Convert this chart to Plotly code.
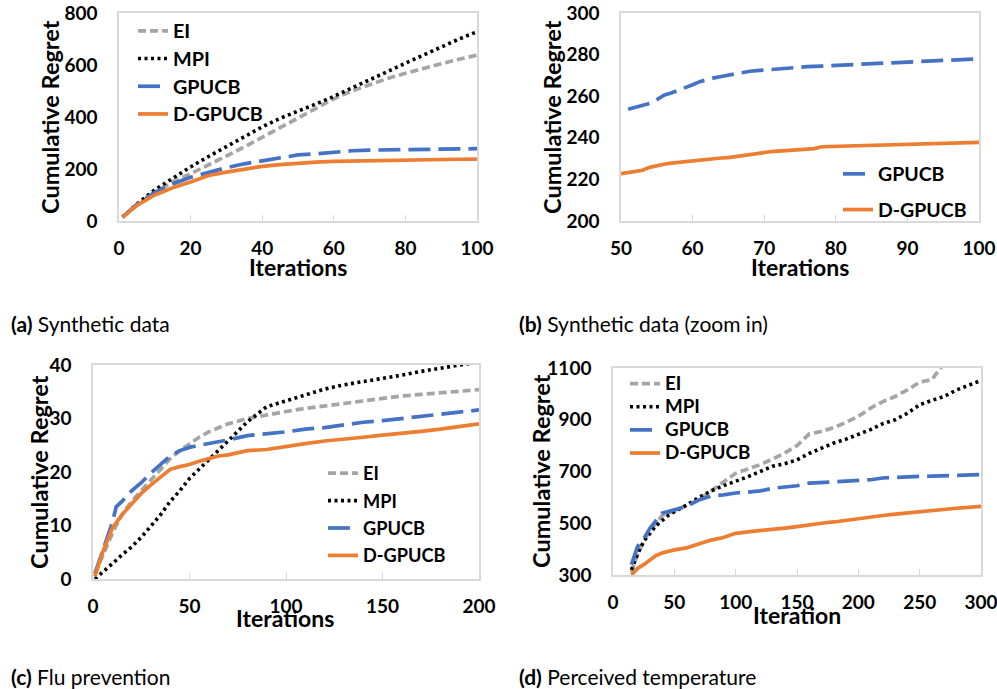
import plotly.graph_objects as go

W, H = 997, 689

# ---------------- data ----------------
# (a) Synthetic data
a_x = [1, 5, 10, 15, 20, 25, 30, 35, 40, 45, 50, 55, 60, 65, 70, 75, 80, 85, 90, 95, 100]
a_ei = [15, 60, 110, 150, 182, 215, 250, 285, 322, 360, 398, 435, 470, 500, 525, 548, 568, 588, 605, 622, 638]
a_mpi = [15, 65, 120, 165, 208, 248, 286, 325, 362, 395, 421, 450, 479, 510, 543, 575, 607, 638, 670, 700, 728]
a_gpucb = [15, 65, 110, 142, 168, 188, 205, 220, 232, 245, 254, 258.3, 265.5, 270.2, 272.6, 274, 274.8, 275.3, 276.5, 277, 278]
a_dgpucb = [15, 60, 100, 128, 150, 175, 188, 200, 210, 217, 222.8, 226.7, 229, 230.5, 233.1, 234.4, 235.9, 236.3, 236.9, 237.5, 237.8]

# (b) Synthetic data (zoom in)
b_x_gpucb = [51, 52, 53, 54, 55, 56, 57, 58, 59, 60, 61, 62, 63, 64, 65, 66, 67, 68, 69, 70,
             72, 74, 76, 78, 80, 82, 84, 86, 88, 90, 92, 94, 96, 98, 100]
b_gpucb = [253.7, 254.5, 255.3, 256.5, 258.3, 260.5, 261.5, 262.7, 264, 265.5, 267, 268, 268.8, 269.5,
           270.2, 271, 271.6, 272, 272.3, 272.6, 273.3, 273.8, 274.2, 274.5, 274.8, 275, 275.2, 275.5,
           276, 276.5, 276.7, 276.9, 277.1, 277.5, 278]
b_x_dgpucb = [50, 51, 52, 53, 54, 55, 56, 57, 58, 59, 60, 61, 62, 63, 64, 65, 66, 67, 68, 69, 70,
              71, 72, 73, 74, 75, 76, 77, 78, 79, 80, 82, 84, 86, 88, 90, 92, 94, 96, 98, 100]
b_dgpucb = [222.8, 223.2, 223.8, 224.4, 225.8, 226.7, 227.3, 227.8, 228.2, 228.5, 229, 229.3, 229.9,
            230.2, 230.3, 230.5, 231, 231.8, 232.2, 232.8, 233.1, 233.4, 233.6, 233.8, 234.1, 234.4,
            234.6, 234.8, 235.7, 235.8, 235.9, 236.0, 236.2, 236.4, 236.6, 236.9, 237.1, 237.4, 237.6,
            237.7, 237.8]

# (c) Flu prevention
c_x = [1, 5, 10, 12, 15, 20, 25, 30, 35, 40, 45, 50, 55, 60, 65, 70, 80, 90, 100, 110, 120, 130,
       140, 150, 160, 170, 180, 190, 200]
c_ei = [1, 4.5, 8.5, 10, 12, 14.5, 16.5, 18.5, 20.5, 22.5, 24, 25.3, 26.5, 27.5, 28.3, 29, 30, 30.7,
        31.3, 31.9, 32.3, 32.8, 33.3, 33.8, 34.2, 34.5, 34.8, 35.1, 35.4]
c_mpi = [0, 1.2, 2.9, 3.5, 4.5, 6, 7.8, 9.8, 12, 14.5, 16.5, 18.8, 20.5, 22.2, 24, 25.8, 29.4, 32.2,
         33.3, 34.4, 35.5, 36.3, 36.9, 37.4, 38.1, 38.8, 39.4, 40, 40.6]
c_gpucb = [1, 5, 10.5, 13.5, 14.5, 16.5, 18, 19.8, 21.5, 23, 24, 24.6, 25, 25.3, 25.6, 26, 26.8, 27.1,
           27.5, 28, 28.3, 28.8, 29.3, 29.6, 30, 30.4, 30.8, 31.2, 31.6]
c_dgpucb = [0.5, 5, 9.5, 10.5, 12, 14, 16, 17.6, 19, 20.5, 21, 21.4, 22, 22.5, 23, 23.2, 24, 24.2,
            24.8, 25.3, 25.8, 26.1, 26.5, 26.9, 27.2, 27.6, 28, 28.5, 29]

# (d) Perceived temperature
d_x = [15, 20, 25, 30, 35, 40, 45, 50, 60, 70, 80, 90, 100, 110, 120, 130, 140, 150, 160, 170, 180,
       190, 200, 210, 220, 230, 240, 250, 260, 270, 280, 290, 300]
d_ei = [310, 380, 430, 470, 500, 530, 540, 545, 570, 590, 625, 660, 693, 710, 726, 748, 771, 800, 845,
        855, 870, 890, 913, 945, 970, 990, 1015, 1045, 1055, 1120, 1150, 1180, 1210]
d_mpi = [320, 380, 430, 460, 490, 510, 530, 545, 570, 600, 625, 645, 661, 680, 700, 720, 730, 745, 770,
         790, 810, 825, 842, 862, 885, 900, 925, 958, 975, 990, 1015, 1035, 1052]
d_gpucb = [340, 410, 440, 480, 510, 539, 545, 552, 565, 590, 605, 610, 617, 620, 625, 635, 640, 645,
           655, 657, 660, 661, 663, 668, 675, 678, 680, 681, 682, 684, 686, 687, 688]
d_dgpucb = [300, 325, 340, 358, 375, 385, 392, 397, 405, 420, 435, 445, 461, 467, 471, 476, 481, 487,
            495, 500, 505, 512, 518, 524, 530, 535, 540, 545, 550, 555, 558, 561, 565]

names = ["EI", "MPI", "GPUCB", "D-GPUCB"]
captions = ["<b>(a)</b> Synthetic data", "<b>(b)</b> Synthetic data (zoom in)",
            "<b>(c)</b> Flu prevention", "<b>(d)</b> Perceived temperature"]
x_titles = ["Iterations", "Iterations", "Iterations", "Iteration"]
y_title = "Cumulative Regret"

# ---------------- style ----------------
COL = {"EI": "#a5a5a5", "MPI": "#000000", "GPUCB": "#4472c4", "D-GPUCB": "#ed7d31"}
DASH = {"EI": "8px,4px", "MPI": "3px,3.5px", "GPUCB": "22px,8px", "D-GPUCB": "solid"}
WID = {"EI": 3.7, "MPI": 3.6, "GPUCB": 3.7, "D-GPUCB": 3.7}
FONT = "Lato"
FRAME = "#d9d9d9"


def px_x(p):
    return p / W


def px_y(p):
    return 1 - p / H


# plot boxes in pixels: left, right, top, bottom
boxes = [(119, 477, 13, 221), (621, 979, 13, 221), (93, 479, 365, 579), (613, 981, 368, 575)]

# legends: (left px of line sample, top px, row-height font size, text font size, gap)
leg_specs = [(138, 12, 19, 19.8, 0), (843, 155, 19, 19.5, 8), (328, 455, 18, 18.2, 1), (630, 367, 15.5, 18.8, 0)]

fig = go.Figure()

panel_series = [
    [(a_x, a_ei, "EI"), (a_x, a_mpi, "MPI"), (a_x, a_gpucb, "GPUCB"), (a_x, a_dgpucb, "D-GPUCB")],
    [(b_x_gpucb, b_gpucb, "GPUCB"), (b_x_dgpucb, b_dgpucb, "D-GPUCB")],
    [(c_x, c_ei, "EI"), (c_x, c_mpi, "MPI"), (c_x, c_gpucb, "GPUCB"), (c_x, c_dgpucb, "D-GPUCB")],
    [(d_x, d_ei, "EI"), (d_x, d_mpi, "MPI"), (d_x, d_gpucb, "GPUCB"), (d_x, d_dgpucb, "D-GPUCB")],
]

legend_ids = ["legend", "legend2", "legend3", "legend4"]

for i, series in enumerate(panel_series):
    xa = "x" if i == 0 else f"x{i+1}"
    ya = "y" if i == 0 else f"y{i+1}"
    tfs = leg_specs[i][3]
    for xs, ys, nm in series:
        fig.add_trace(go.Scatter(
            x=xs, y=ys, name=f"<span style='font-size:{tfs}px'>{nm}</span>",
            mode="lines", xaxis=xa, yaxis=ya,
            line=dict(color=COL[nm], width=WID[nm], dash=DASH[nm]),
            legend=legend_ids[i], legendgroup=f"{i}-{nm}", showlegend=True,
        ))

x_ranges = [[0, 100], [50, 100], [0, 200], [0, 300]]
x_dticks = [20, 10, 50, 50]
y_ranges = [[0, 800], [200, 300], [0, 40], [300, 1100]]
y_dticks = [200, 20, 10, 200]
y_tick0 = [0, 200, 0, 300]

layout = dict(
    width=W, height=H, margin=dict(l=0, r=0, t=0, b=0, autoexpand=False),
    paper_bgcolor="white", plot_bgcolor="white",
    font=dict(family=FONT, color="black"),
)

for i, (l, r, t, b) in enumerate(boxes):
    suf = "" if i == 0 else str(i + 1)
    layout[f"xaxis{suf}"] = dict(
        domain=[px_x(l), px_x(r)], range=x_ranges[i], dtick=x_dticks[i], tick0=0,
        anchor=f"y{suf}", showgrid=False, zeroline=False, automargin=False,
        showline=True, linecolor=FRAME, linewidth=1.5, mirror=True,
        ticks="inside", ticklen=6, tickcolor=FRAME, tickwidth=1,
        tickfont=dict(family=FONT, size=19, color="black", weight="bold"),
        ticklabelstandoff=9, ticklabeloverflow="allow",
    )
    layout[f"yaxis{suf}"] = dict(
        domain=[px_y(b), px_y(t)], range=y_ranges[i], dtick=y_dticks[i], tick0=y_tick0[i],
        anchor=f"x{suf}", showgrid=False, zeroline=False, automargin=False,
        showline=True, linecolor=FRAME, linewidth=1.5, mirror=True,
        ticks="",
        tickfont=dict(family=FONT, size=19, color="black", weight="bold"),
        ticklabelstandoff=16, ticklabeloverflow="allow",
    )

for i, (lx, ty, fs, tfs, gap) in enumerate(leg_specs):
    layout[legend_ids[i]] = dict(
        x=px_x(lx - 5), y=px_y(ty), xanchor="left", yanchor="top",
        bgcolor="rgba(0,0,0,0)", borderwidth=0,
        font=dict(family=FONT, size=fs, color="black", weight="bold"),
        traceorder="grouped", tracegroupgap=gap, itemclick=False,
    )

annotations = []
# axis titles
xt_pos = [(298, 267), (800, 267), (285, 618), (797, 615)]
yt_pos = [(50, 117), (552, 117), (39, 472), (541, 471)]
for txt, (cx, cy) in zip(x_titles, xt_pos):
    annotations.append(dict(text=txt, x=px_x(cx), y=px_y(cy), xref="paper", yref="paper",
                            xanchor="center", yanchor="middle", showarrow=False,
                            font=dict(family=FONT, size=23, color="black", weight="bold")))
for cx, cy in yt_pos:
    annotations.append(dict(text=y_title, x=px_x(cx), y=px_y(cy), xref="paper", yref="paper",
                            xanchor="center", yanchor="middle", showarrow=False, textangle=-90,
                            font=dict(family=FONT, size=23.5, color="black", weight="bold")))
# captions
cap_pos = [(9, 323), (517, 323), (9, 676), (517, 676)]
for txt, (cx, cy) in zip(captions, cap_pos):
    annotations.append(dict(text=txt, x=px_x(cx), y=px_y(cy), xref="paper", yref="paper",
                            xanchor="left", yanchor="middle", showarrow=False,
                            font=dict(family=FONT, size=21, color="black")))
layout["annotations"] = annotations

fig.update_layout(**layout)
fig.write_html("out.html", config={"displayModeBar": False},
               post_script="document.body.style.margin='0';")
